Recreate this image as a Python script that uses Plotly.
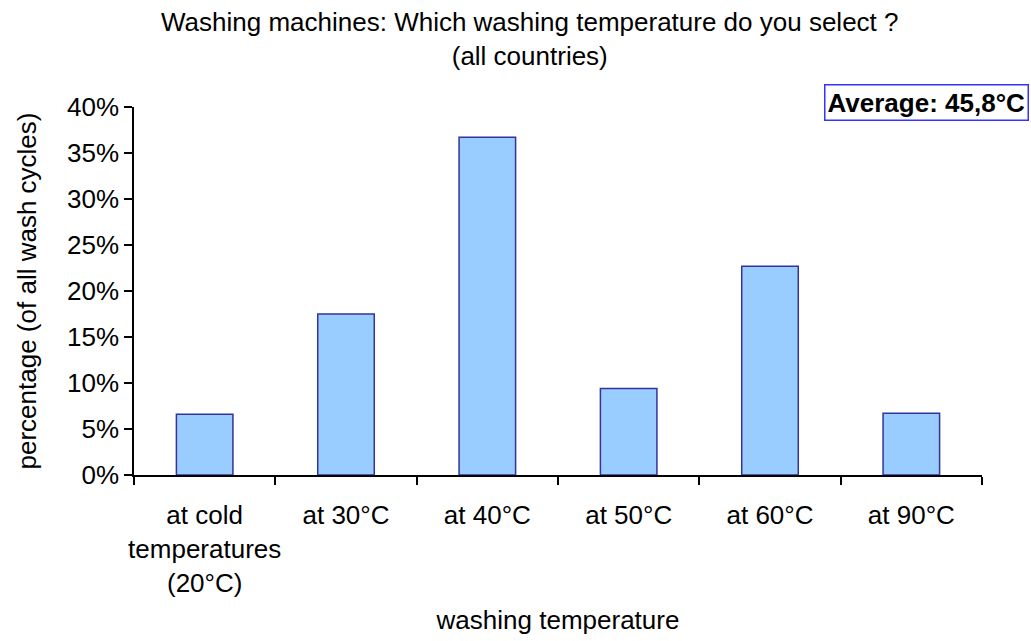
import plotly.graph_objects as go

categories = ["at cold<br>temperatures<br>(20°C)", "at 30°C", "at 40°C", "at 50°C", "at 60°C", "at 90°C"]
shares = [0.066, 0.175, 0.367, 0.094, 0.227, 0.067]
y_ticks = [0, 0.05, 0.10, 0.15, 0.20, 0.25, 0.30, 0.35, 0.40]

FONT = "Arial, 'Liberation Sans', sans-serif"

fig = go.Figure(go.Bar(
    x=categories, y=shares,
    marker=dict(color="#99CCFF", line=dict(color="#333399", width=1.5)),
    hoverinfo="skip",
))

L, R, T, B = 134, 49, 107, 166
W, H = 1031, 641
pw, ph = W - L - R, H - T - B

fig.update_layout(
    width=W, height=H,
    margin=dict(l=L, r=R, t=T, b=B, pad=0),
    paper_bgcolor="white", plot_bgcolor="white",
    font=dict(family=FONT, size=26, color="black"),
    showlegend=False,
    bargap=0.6,
    xaxis=dict(
        showline=True, linecolor="black", linewidth=1.5,
        ticks="outside", tickson="boundaries", ticklen=8, tickcolor="black", tickwidth=1.5,
        showgrid=False, zeroline=False, tickangle=0,
        tickfont=dict(size=26), ticklabelstandoff=16,
        title=dict(text="washing temperature", font=dict(size=26), standoff=14),
        automargin=False,
    ),
    yaxis=dict(
        range=[0, 0.40], tickvals=y_ticks, tickformat=".0%",
        showline=True, linecolor="black", linewidth=1.5,
        ticks="outside", ticklen=8, tickcolor="black", tickwidth=1.5,
        showgrid=False, zeroline=False,
        tickfont=dict(size=26),
        title=dict(text="percentage (of all wash cycles)", font=dict(size=26), standoff=23),
        automargin=False,
    ),
    annotations=[
        dict(
            text="Washing machines: Which washing temperature do you select ?<br>(all countries)",
            xref="paper", yref="paper",
            x=(530 - L) / pw, xanchor="center",
            y=(H - B - 5) / ph, yanchor="top",
            showarrow=False,
            font=dict(family=FONT, size=26, color="black"),
        ),
        dict(
            text="<b>Average: 45,8°C</b>",
            xref="paper", yref="paper",
            x=(1029 - L) / pw, xanchor="right",
            y=(H - B - 84) / ph, yanchor="top",
            showarrow=False,
            font=dict(family=FONT, size=26, color="black"),
            bordercolor="#3333FF", borderwidth=1.5, borderpad=2, bgcolor="white",
        ),
    ],
)

fig.write_html(
    "out.html",
    config={"displayModeBar": False},
    post_script="document.body.style.margin='0px';document.body.style.overflow='hidden';",
)
